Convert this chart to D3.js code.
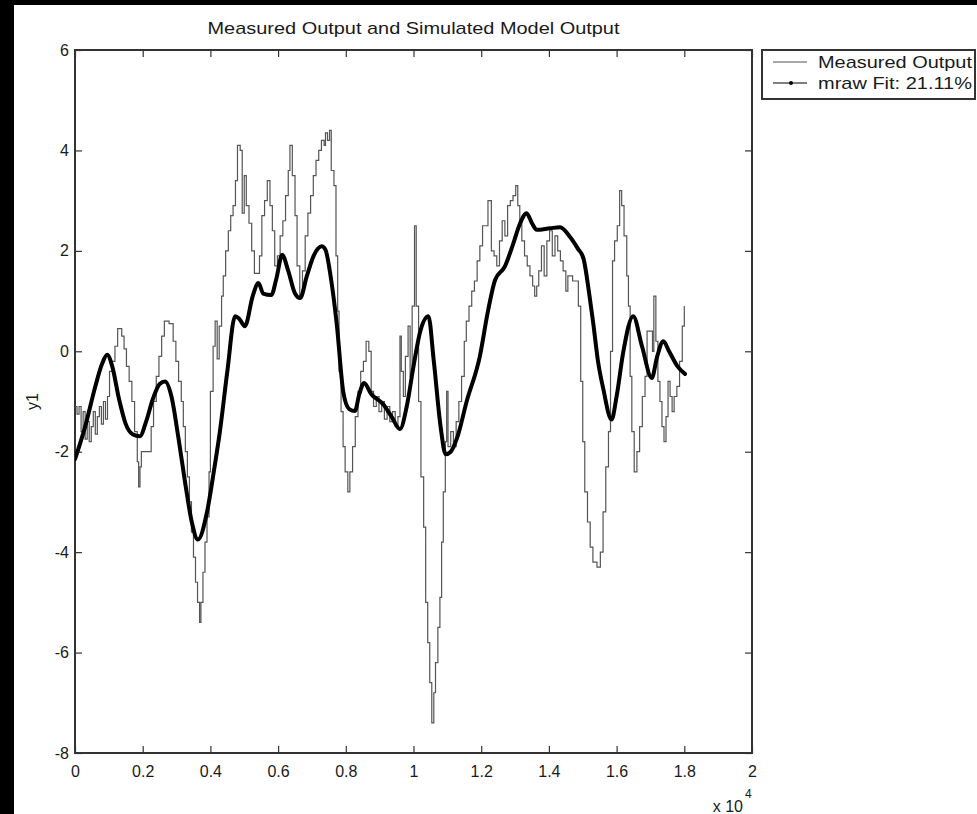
<!DOCTYPE html>
<html>
<head>
<meta charset="utf-8">
<script src="https://cdn.jsdelivr.net/npm/d3@7/dist/d3.min.js"></script>
<style>
  html, body { margin: 0; padding: 0; background: #fff; }
  svg { display: block; }
  text { font-family: "Liberation Sans", Arial, Helvetica, sans-serif; fill: #1a1a1a; }
</style>
</head>
<body>
<svg id="chart" width="977" height="814"></svg>
<script>
// Measured output: [sample index, y1]
const measured = [
  [0,-1.1],[60,-1.25],[120,-1.1],[180,-1.6],[240,-1.2],[300,-1.75],[360,-1.4],[420,-1.8],
  [480,-1.5],[540,-1.2],[600,-1.65],[660,-1.3],[720,-1.1],[780,-1.45],[840,-1.0],[900,-1.35],
  [960,-0.9],[1020,-0.4],[1100,-0.2],[1180,0.1],[1260,0.45],[1380,0.3],[1450,0.05],[1520,-0.3],
  [1600,-0.6],[1680,-1.0],[1760,-1.6],[1840,-2.2],[1880,-2.7],[1920,-2.3],[1960,-2.0],[2250,-1.5],
  [2320,-1.0],[2400,-0.5],[2480,-0.1],[2560,0.3],[2640,0.6],[2780,0.55],[2900,0.2],[2980,-0.2],
  [3060,-0.6],[3140,-1.0],[3200,-1.5],[3260,-2.0],[3320,-2.5],[3380,-3.0],[3440,-3.6],[3500,-4.1],
  [3560,-4.6],[3620,-5.0],[3680,-5.4],[3720,-5.0],[3780,-4.4],[3840,-3.8],[3900,-3.3],[3960,-2.4],
  [4000,-0.8],[4080,0.1],[4140,0.6],[4200,-0.15],[4260,0.5],[4330,1.1],[4380,1.5],[4450,2.0],
  [4530,2.4],[4600,2.7],[4670,2.9],[4740,3.4],[4800,4.1],[4880,4.0],[4940,2.75],[5000,3.5],
  [5060,2.9],[5140,2.55],[5220,2.0],[5300,1.55],[5450,1.9],[5520,2.7],[5600,3.0],[5680,3.4],
  [5760,2.9],[5830,2.4],[5900,1.7],[5980,1.9],[6060,2.3],[6140,2.6],[6220,3.1],[6300,3.6],
  [6350,4.1],[6420,3.5],[6500,2.7],[6560,1.7],[6640,1.1],[6720,1.6],[6800,2.3],[6880,2.75],
  [6960,3.1],[7040,3.5],[7120,3.8],[7200,4.0],[7280,4.2],[7360,4.1],[7400,4.35],[7460,4.2],
  [7520,4.4],[7570,3.6],[7650,3.3],[7710,1.9],[7760,0.8],[7800,-0.4],[7860,-1.2],[7920,-1.9],
  [7980,-2.4],[8060,-2.8],[8120,-2.4],[8200,-1.9],[8280,-1.3],[8360,-0.8],[8440,-0.4],[8520,-0.2],
  [8600,0.2],[8680,0.0],[8750,-0.8],[8820,-1.1],[8900,-0.9],[8980,-1.2],[9060,-1.0],[9140,-1.35],
  [9220,-1.1],[9300,-1.4],[9380,-1.2],[9460,-1.5],[9540,-1.3],[9600,0.3],[9640,-0.4],[9700,-0.9],
  [9760,-0.1],[9840,0.5],[9900,-0.5],[9960,0.9],[10030,2.5],[10080,0.9],[10150,-1.0],[10220,-2.5],
  [10300,-3.5],[10360,-5.0],[10420,-5.8],[10480,-6.6],[10540,-7.4],[10600,-6.8],[10650,-6.2],
  [10720,-5.5],[10780,-4.9],[10830,-3.8],[10880,-2.8],[10940,-1.8],[10980,-0.8],[11020,-1.9],
  [11100,-1.6],[11180,-1.9],[11260,-1.4],[11340,-1.0],[11420,-0.5],[11500,0.2],[11560,0.6],
  [11640,0.9],[11720,1.2],[11800,1.4],[11880,1.8],[11960,2.1],[12040,2.5],[12120,2.5],[12200,3.0],
  [12300,2.0],[12380,1.9],[12460,1.7],[12540,2.2],[12620,2.6],[12700,2.3],[12780,2.9],[12860,3.0],
  [12940,3.1],[13020,3.3],[13080,2.9],[13140,2.6],[13200,2.2],[13280,1.9],[13360,1.7],[13440,1.5],
  [13520,1.3],[13580,1.1],[13640,1.3],[13700,1.6],[13780,2.1],[13860,1.5],[13940,2.2],[14020,2.4],
  [14100,1.9],[14180,2.3],[14260,2.0],[14340,1.8],[14420,1.6],[14500,1.2],[14560,1.5],[14700,1.4],
  [14870,0.9],[14940,-0.6],[15000,-1.8],[15060,-2.8],[15140,-3.4],[15220,-3.9],[15300,-4.2],
  [15420,-4.3],[15520,-4.0],[15600,-3.2],[15680,-2.3],[15760,-1.6],[15820,0.0],[15880,1.8],
  [15940,2.2],[16020,2.5],[16090,3.2],[16150,2.9],[16220,2.3],[16300,1.5],[16350,0.9],[16400,-0.5],
  [16450,-1.6],[16520,-2.4],[16600,-2.0],[16680,-1.5],[16760,-0.9],[16840,-0.5],[16900,0.4],
  [16980,0.4],[17060,0.0],[17100,1.1],[17160,0.2],[17220,-0.6],[17280,-1.0],[17340,-1.5],
  [17400,-1.8],[17460,-1.3],[17520,-0.6],[17580,-0.9],[17640,-1.2],[17700,-0.9],[17780,-0.7],
  [17860,-0.2],[17940,0.5],[18000,0.9]
];

// Simulated model output: [sample index, y1]
const simulated = [
  [0,-2.15],[300,-1.5],[600,-0.7],[800,-0.25],[950,-0.07],[1100,-0.3],[1300,-0.95],[1500,-1.45],
  [1700,-1.65],[1920,-1.69],[2100,-1.4],[2300,-0.95],[2500,-0.65],[2660,-0.6],[2850,-0.9],
  [3050,-1.7],[3250,-2.6],[3450,-3.4],[3630,-3.75],[3900,-3.2],[4100,-2.4],[4280,-1.6],
  [4500,-0.4],[4730,0.7],[4850,0.65],[5020,0.5],[5250,1.1],[5420,1.36],[5560,1.15],[5800,1.12],
  [5950,1.45],[6120,1.92],[6300,1.6],[6500,1.15],[6650,1.06],[6850,1.5],[7050,1.9],[7290,2.09],
  [7400,2.02],[7550,1.5],[7730,0.56],[7930,-0.83],[8100,-1.15],[8270,-1.19],[8400,-0.85],
  [8540,-0.63],[8750,-0.85],[9110,-1.06],[9350,-1.3],[9600,-1.55],[9800,-1.1],[10000,-0.3],
  [10200,0.4],[10440,0.7],[10600,-0.2],[10800,-1.5],[10950,-2.05],[11100,-2.0],[11300,-1.7],
  [11570,-1.0],[11960,-0.1],[12200,0.8],[12410,1.42],[12700,1.69],[12950,2.15],[13150,2.55],
  [13340,2.75],[13500,2.55],[13640,2.42],[14030,2.45],[14330,2.47],[14620,2.28],[14850,2.05],
  [15020,1.85],[15200,1.1],[15310,0.56],[15450,-0.2],[15610,-0.76],[15850,-1.36],[16000,-0.9],
  [16200,0.0],[16490,0.7],[16750,0.1],[17040,-0.53],[17200,-0.1],[17380,0.2],[17550,0.0],
  [17800,-0.3],[18020,-0.45]
];

const xTicks = [0, 2000, 4000, 6000, 8000, 10000, 12000, 14000, 16000, 18000, 20000];
const yTicks = [-8, -6, -4, -2, 0, 2, 4, 6];
const legendLabels = ["Measured Output", "mraw Fit: 21.11%"];
const titleText = "Measured Output and Simulated Model Output";
const yLabel = "y1";

const svg = d3.select("#chart");
const W = 977, H = 814;
const plot = { left: 75, right: 752, top: 50, bottom: 753 };

svg.append("rect").attr("width", W).attr("height", H).attr("fill", "#fff");
// dark frame strips along the top and left edges
svg.append("rect").attr("x", 0).attr("y", 0).attr("width", W).attr("height", 5).attr("fill", "#000");
svg.append("rect").attr("x", 0).attr("y", 0).attr("width", 14).attr("height", H).attr("fill", "#000");

const x = d3.scaleLinear().domain([0, 20000]).range([plot.left, plot.right]);
const y = d3.scaleLinear().domain([-8, 6]).range([plot.bottom, plot.top]);

const axisColor = "#333";
const fmtX = d => d3.format("~g")(d / 10000);

function styleAxis(g) {
  g.selectAll("path.domain").remove();
  g.selectAll(".tick line").attr("stroke", axisColor).attr("stroke-width", 1.2);
}

// bottom axis (ticks point inward)
const gB = svg.append("g").attr("transform", `translate(0,${plot.bottom})`)
  .call(d3.axisBottom(x).tickValues(xTicks).tickFormat(fmtX).tickSizeInner(-7).tickSizeOuter(0).tickPadding(13));
styleAxis(gB);
gB.selectAll("text").attr("font-size", 16).attr("fill", "#1a1a1a");

// top axis, ticks only
const gT = svg.append("g").attr("transform", `translate(0,${plot.top})`)
  .call(d3.axisTop(x).tickValues(xTicks).tickFormat("").tickSizeInner(-7).tickSizeOuter(0));
styleAxis(gT);

// left axis
const gL = svg.append("g").attr("transform", `translate(${plot.left},0)`)
  .call(d3.axisLeft(y).tickValues(yTicks).tickFormat(d => d < 0 ? "-" + Math.abs(d) : d)
    .tickSizeInner(-7).tickSizeOuter(0).tickPadding(6));
styleAxis(gL);
gL.selectAll("text").attr("font-size", 16).attr("fill", "#1a1a1a");

// right axis, ticks only
const gR = svg.append("g").attr("transform", `translate(${plot.right},0)`)
  .call(d3.axisRight(y).tickValues(yTicks).tickFormat("").tickSizeInner(-7).tickSizeOuter(0));
styleAxis(gR);

// axes box
svg.append("rect")
  .attr("x", plot.left).attr("y", plot.top)
  .attr("width", plot.right - plot.left).attr("height", plot.bottom - plot.top)
  .attr("fill", "none").attr("stroke", axisColor).attr("stroke-width", 2);

// exponent label
svg.append("text").attr("x", 743).attr("y", 812).attr("text-anchor", "end").attr("font-size", 16).text("x 10");
svg.append("text").attr("x", 745).attr("y", 798).attr("font-size", 12).text("4");

// title
svg.append("text")
  .attr("x", (plot.left + plot.right) / 2).attr("y", 34)
  .attr("text-anchor", "middle").attr("font-size", 17)
  .attr("textLength", 412).attr("lengthAdjust", "spacingAndGlyphs")
  .text(titleText);

// y label
svg.append("text")
  .attr("transform", `translate(38,${(plot.top + plot.bottom) / 2}) rotate(-90)`)
  .attr("text-anchor", "middle").attr("font-size", 16)
  .text(yLabel);

// data lines
svg.append("clipPath").attr("id", "plotclip").append("rect")
  .attr("x", plot.left).attr("y", plot.top)
  .attr("width", plot.right - plot.left).attr("height", plot.bottom - plot.top);

const lineMeasured = d3.line().x(d => x(d[0])).y(d => y(d[1])).curve(d3.curveStepAfter);
const lineSim = d3.line().x(d => x(d[0])).y(d => y(d[1])).curve(d3.curveMonotoneX);

svg.append("path").datum(measured)
  .attr("clip-path", "url(#plotclip)")
  .attr("d", lineMeasured)
  .attr("fill", "none").attr("stroke", "#555").attr("stroke-width", 1.2);

svg.append("path").datum(simulated)
  .attr("clip-path", "url(#plotclip)")
  .attr("d", lineSim)
  .attr("fill", "none").attr("stroke", "#000").attr("stroke-width", 4)
  .attr("stroke-linejoin", "round").attr("stroke-linecap", "round");

// legend
const lg = svg.append("g");
lg.append("rect").attr("x", 762).attr("y", 50).attr("width", 213).attr("height", 49)
  .attr("fill", "#fff").attr("stroke", axisColor).attr("stroke-width", 2);
const rows = [62, 83];
lg.append("line").attr("x1", 773).attr("x2", 807).attr("y1", rows[0]).attr("y2", rows[0])
  .attr("stroke", "#555").attr("stroke-width", 1.2);
lg.append("line").attr("x1", 773).attr("x2", 807).attr("y1", rows[1]).attr("y2", rows[1])
  .attr("stroke", "#000").attr("stroke-width", 1.2);
lg.append("circle").attr("cx", 791).attr("cy", rows[1]).attr("r", 2).attr("fill", "#000");
legendLabels.forEach((t, i) => {
  lg.append("text").attr("x", 818).attr("y", rows[i] + 6).attr("font-size", 17)
    .attr("textLength", 154).attr("lengthAdjust", "spacingAndGlyphs").text(t);
});
</script>
</body>
</html>
